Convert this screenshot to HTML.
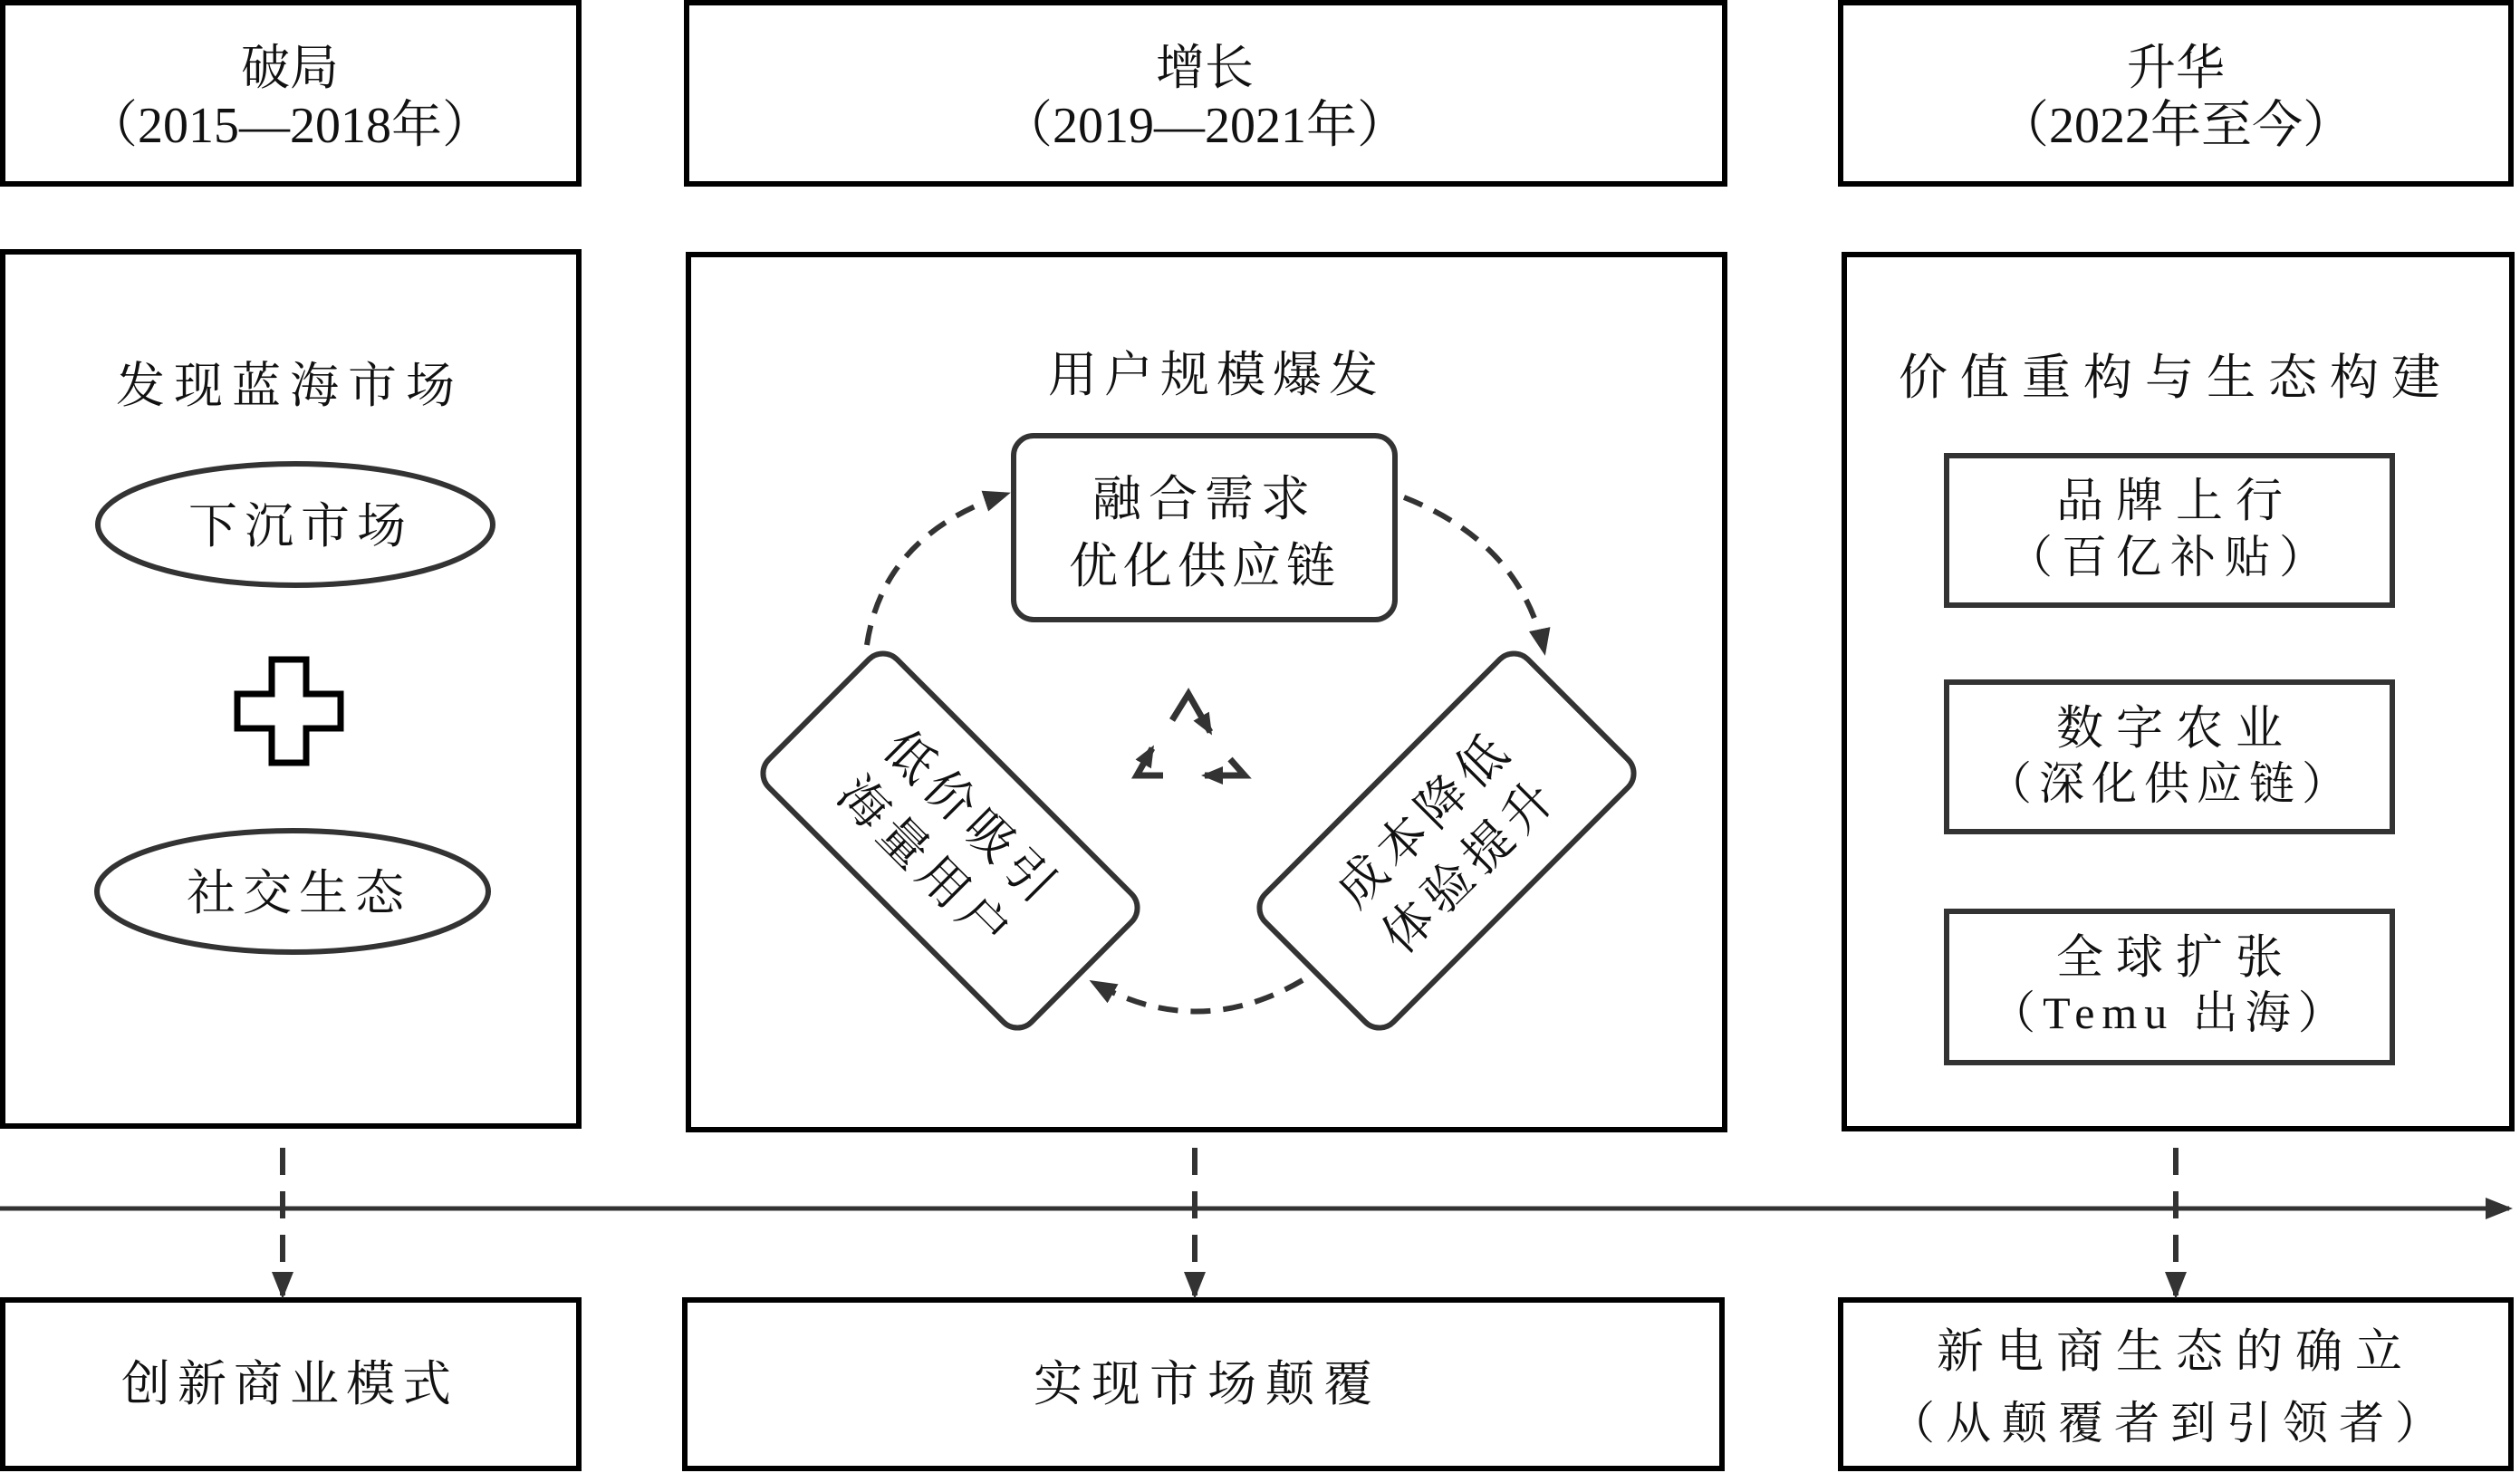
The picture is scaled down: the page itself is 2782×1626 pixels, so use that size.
<!DOCTYPE html>
<html><head><meta charset="utf-8"><style>
html,body{margin:0;padding:0;background:#fff}
svg{display:block}
text{font-family:"Liberation Serif","Noto Serif CJK SC",serif;fill:#111;text-anchor:middle;dominant-baseline:central}
</style></head><body>
<svg width="2782" height="1626" viewBox="0 0 2782 1626" xmlns="http://www.w3.org/2000/svg">
<defs>
<marker id="ah2" markerWidth="30" markerHeight="30" refX="26" refY="15" orient="auto" markerUnits="userSpaceOnUse" viewBox="0 0 30 30"><path d="M0,3 L30,15 L0,27 z" fill="#333"/></marker>
<marker id="ah3" markerWidth="24" markerHeight="24" refX="20" refY="12" orient="auto" markerUnits="userSpaceOnUse" viewBox="0 0 24 24"><path d="M0,2 L24,12 L0,22 z" fill="#333"/></marker>
</defs>
<g fill="none" stroke="#000" stroke-width="6">
<rect x="3" y="3" width="636" height="200"/>
<rect x="758" y="3" width="1146" height="200"/>
<rect x="2032" y="3" width="740" height="200"/>
<rect x="3" y="278" width="636" height="965"/>
<rect x="760" y="281" width="1144" height="966"/>
<rect x="2036" y="281" width="737" height="965"/>
<rect x="3" y="1435" width="636" height="186"/>
<rect x="756" y="1435" width="1145" height="186"/>
<rect x="2032" y="1435" width="740" height="186"/>
</g>
<text x="320" y="75" font-size="54">破局</text>
<text x="320" y="139" font-size="56">（2015—2018年）</text>
<text x="1330" y="75" font-size="54">增长</text>
<text x="1330" y="139" font-size="56">（2019—2021年）</text>
<text x="2402" y="75" font-size="54">升华</text>
<text x="2402" y="139" font-size="56">（2022年至今）</text>

<text x="320" y="426" font-size="54" letter-spacing="10">发现蓝海市场</text>
<g fill="none" stroke="#333" stroke-width="6">
<ellipse cx="326" cy="579" rx="218" ry="67"/>
<ellipse cx="323" cy="984" rx="216" ry="67"/>
</g>
<text x="332" y="581" font-size="54" letter-spacing="8">下沉市场</text>
<text x="330" y="986" font-size="54" letter-spacing="8">社交生态</text>
<path d="M300,728 h38 v38 h38 v38 h-38 v38 h-38 v-38 h-38 v-38 h38 z" fill="none" stroke="#000" stroke-width="7"/>

<text x="1343" y="414" font-size="54" letter-spacing="8">用户规模爆发</text>
<rect x="1119" y="481" width="421" height="203" rx="22" fill="none" stroke="#333" stroke-width="6"/>
<text x="1330" y="551" font-size="54" letter-spacing="8">融合需求</text>
<text x="1330" y="625" font-size="54" letter-spacing="6">优化供应链</text>
<g transform="translate(1049,928) rotate(45)">
<rect x="-205" y="-100" width="410" height="200" rx="22" fill="none" stroke="#333" stroke-width="6"/>
<text x="0" y="-34" font-size="54" letter-spacing="8">低价吸引</text>
<text x="0" y="38" font-size="54" letter-spacing="8">海量用户</text>
</g>
<g transform="translate(1597,928) rotate(-45)">
<rect x="-205" y="-100" width="410" height="200" rx="22" fill="none" stroke="#333" stroke-width="6"/>
<text x="0" y="-34" font-size="54" letter-spacing="8">成本降低</text>
<text x="0" y="38" font-size="54" letter-spacing="8">体验提升</text>
</g>
<g fill="none" stroke="#333" stroke-width="6" stroke-dasharray="22,14">
<path d="M957,712 Q975,590 1112,545" marker-end="url(#ah2)"/>
<path d="M1550,549 Q1680,600 1705,720" marker-end="url(#ah2)"/>
<path d="M1438,1082 Q1322,1150 1206,1084" marker-end="url(#ah2)"/>
</g>
<g fill="none" stroke="#333" stroke-width="7">
<path d="M1294,795 L1312,766 L1336,808" marker-end="url(#ah3)"/>
<path d="M1358,838 L1374,856 L1330,856" marker-end="url(#ah3)"/>
<path d="M1284,856 L1255,856 L1272,826" marker-end="url(#ah3)"/>
</g>

<text x="2402" y="417" font-size="54" letter-spacing="14">价值重构与生态构建</text>
<g fill="none" stroke="#333" stroke-width="6">
<rect x="2149" y="503" width="492" height="165"/>
<rect x="2149" y="753" width="492" height="165"/>
<rect x="2149" y="1006" width="492" height="167"/>
</g>
<text x="2402" y="554" font-size="52" letter-spacing="14">品牌上行</text>
<text x="2396" y="615" font-size="50" letter-spacing="10">（百亿补贴）</text>
<text x="2402" y="805" font-size="52" letter-spacing="14">数字农业</text>
<text x="2396" y="865" font-size="50" letter-spacing="8">（深化供应链）</text>
<text x="2402" y="1058" font-size="52" letter-spacing="14">全球扩张</text>
<text x="2396" y="1118" font-size="50" letter-spacing="8">（Temu 出海）</text>

<line x1="0" y1="1334" x2="2770" y2="1334" stroke="#333" stroke-width="5" marker-end="url(#ah2)"/>
<g stroke="#333" stroke-width="6" stroke-dasharray="30,18" fill="none">
<line x1="312" y1="1267" x2="312" y2="1430" marker-end="url(#ah2)"/>
<line x1="1319" y1="1267" x2="1319" y2="1430" marker-end="url(#ah2)"/>
<line x1="2402" y1="1267" x2="2402" y2="1430" marker-end="url(#ah2)"/>
</g>
<text x="320" y="1528" font-size="54" letter-spacing="8">创新商业模式</text>
<text x="1333" y="1528" font-size="54" letter-spacing="10">实现市场颠覆</text>
<text x="2402" y="1493" font-size="52" letter-spacing="14">新电商生态的确立</text>
<text x="2396" y="1571" font-size="50" letter-spacing="12">（从颠覆者到引领者）</text>
</svg>
</body></html>
